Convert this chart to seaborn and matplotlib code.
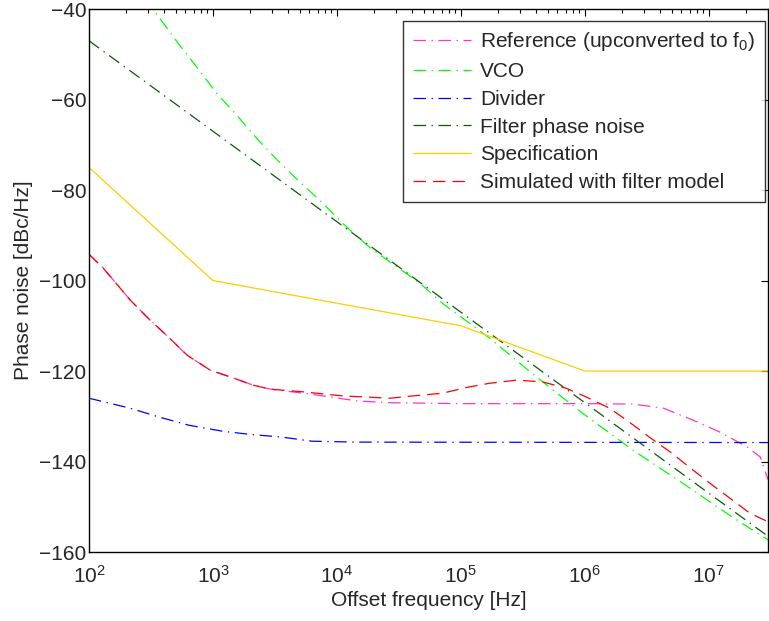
import matplotlib
matplotlib.use("Agg")
import numpy as np
import pandas as pd
import seaborn as sns
import matplotlib.pyplot as plt

# Values
ref_freq = [100, 130, 215, 310, 430, 620, 950, 1380, 2100, 2900, 5400, 7800, 14500,
            27000, 1e5, 1e6, 2.45e6, 4.3e6, 7.4e6, 1.23e7, 2.05e7, 2.6e7, 3e7]
ref_db = [-94.2, -97.2, -104.3, -108.7, -112.3, -116.5, -119.8, -121.3, -123.1, -124.0,
          -124.9, -125.5, -126.6, -127.0, -127.2, -127.2, -127.3, -128.2, -130.8, -133.5,
          -136.8, -139.0, -144.0]

vco_freq = [250, 328, 525, 740, 1070, 1550, 2240, 3310, 5000, 7240, 12000, 18600, 46800,
            70800, 1.7e5, 4.07e5, 9.55e5, 2.45e6, 6.17e6, 1.55e7, 3e7]
vco_db = [-36.0, -40.0, -47.6, -52.8, -58.6, -63.4, -68.5, -73.4, -78.2, -82.2, -88.2,
          -92.8, -100.6, -105.0, -112.7, -121.3, -129.3, -137.5, -144.8, -152.3, -157.3]

div_freq = [100, 214, 372, 646, 1200, 2000, 3630, 6300, 14500, 3e7]
div_db = [-126.0, -128.2, -130.2, -132.0, -133.3, -134.0, -134.6, -135.5, -135.7, -135.8]

filt_freq = [100, 1e3, 1e4, 1e5, 1e6, 1e7, 3e7]
filt_db = [-47.0, -67.0, -87.0, -107.0, -127.0, -147.0, -156.5]

spec_freq = [100, 1e3, 1e5, 1e6, 3e7]
spec_db = [-75.0, -100.0, -110.0, -120.0, -120.0]

sim_freq = [100, 130, 215, 310, 430, 620, 950, 1380, 2100, 2900, 5400, 11200, 27000,
            40700, 70800, 1.12e5, 1.7e5, 2.82e5, 4.57e5, 7.08e5, 1.02e6, 1.58e6, 2.29e6,
            3.31e6, 4.9e6, 7.08e6, 1.02e7, 1.48e7, 2.14e7, 3e7]
sim_db = [-94.2, -97.2, -104.3, -108.7, -112.3, -116.5, -119.8, -121.3, -123.1, -124.0,
          -124.6, -125.5, -126.0, -125.5, -124.9, -123.6, -122.7, -122.0, -122.4, -123.8,
          -125.7, -128.2, -131.3, -134.6, -137.9, -141.4, -144.8, -148.1, -151.4, -153.3]

labels = ["Reference (upconverted to f$_0$)", "VCO", "Divider", "Filter phase noise",
          "Specification", "Simulated with filter model"]

sns.set_style("white")
plt.rcParams["font.family"] = ["Liberation Sans", "DejaVu Sans"]
plt.rcParams["mathtext.fontset"] = "custom"
plt.rcParams["mathtext.rm"] = "Liberation Sans"
plt.rcParams["mathtext.it"] = "Liberation Sans"
plt.rcParams["lines.scale_dashes"] = False

# MATLAB-like long dash patterns
dashdot = (0, (9, 4, 1, 4))
dashed = (0, (9, 5))

fig = plt.figure(figsize=(7.69, 6.21), dpi=100)
ax = fig.add_axes([0.1157, 0.111, 0.883, 0.8744])

series = [
    (ref_freq, ref_db, "#ff33cc", dashdot),
    (vco_freq, vco_db, "#00ff00", dashdot),
    (div_freq, div_db, "#0000ff", dashdot),
    (filt_freq, filt_db, "#0a5a0a", dashdot),
    (spec_freq, spec_db, "#ffcc00", "-"),
    (sim_freq, sim_db, "#ff0000", dashed),
]
for (f, db, col, ls), lab in zip(series, labels):
    df = pd.DataFrame({"f": f, "db": db})
    sns.lineplot(data=df, x="f", y="db", ax=ax, color=col, linestyle=ls,
                 linewidth=0.9, label=lab, sort=False)

ax.set_xscale("log")
ax.set_xlim(100, 3e7)
ax.set_ylim(-160, -40)
ax.set_yticks(np.arange(-160, -39, 20))
ax.set_xlabel("Offset frequency [Hz]", fontsize=15, labelpad=3)
ax.set_ylabel("Phase noise [dBc/Hz]", fontsize=15, labelpad=4)
ax.tick_params(which="both", direction="in", top=True, right=True, labelsize=15,
               color="black", width=0.8)
ax.tick_params(axis="x", which="both", pad=9)
ax.tick_params(axis="y", which="both", pad=2)
ax.tick_params(which="major", length=5)
ax.tick_params(which="minor", length=3)
for sp in ax.spines.values():
    sp.set_color("black")
    sp.set_linewidth(1.0)

leg = ax.legend(loc="upper right", bbox_to_anchor=(0.9956, 0.978), borderaxespad=0,
                fontsize=15, handlelength=2.8, handletextpad=0.45, labelspacing=0.42,
                borderpad=0.45, frameon=True, fancybox=False, edgecolor="black")
leg.get_frame().set_linewidth(1.0)

fig.savefig("out.png", dpi=100)
